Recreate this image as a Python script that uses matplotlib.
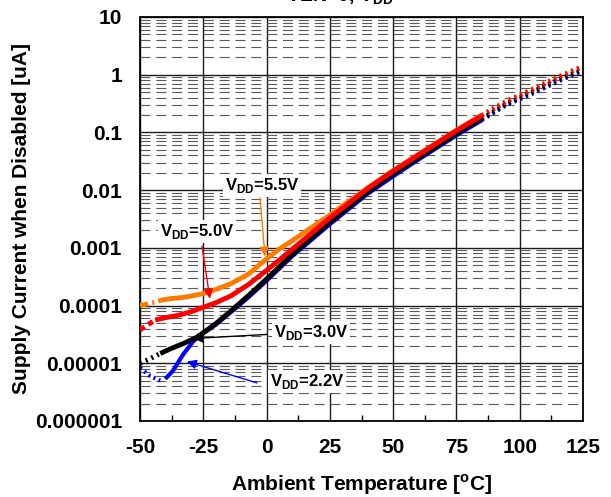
import numpy as np
import matplotlib
matplotlib.use("Agg")
import matplotlib.pyplot as plt
from matplotlib.ticker import FixedLocator, NullFormatter

plt.rcParams['font.family'] = ['Liberation Sans', 'DejaVu Sans']
plt.rcParams['font.weight'] = 'bold'
plt.rcParams['mathtext.fontset'] = 'custom'
plt.rcParams['mathtext.rm'] = 'Liberation Sans:bold'
plt.rcParams['mathtext.bf'] = 'Liberation Sans:bold'
plt.rcParams['lines.scale_dashes'] = False
plt.rcParams['axes.unicode_minus'] = False

# data (log10 of current in uA)
t_22 = [-50, -46, -42, -40, -37, -33, -29, -25, -20, -14, -7, 0, 10, 25, 40, 50, 60, 75, 85, 95, 105, 115, 125]
log_22 = [-5.08, -5.22, -5.30, -5.27, -5.13, -4.85, -4.62, -4.48, -4.33, -4.11, -3.85, -3.57, -3.15,
          -2.59, -2.06, -1.76, -1.47, -1.05, -0.79, -0.52, -0.33, -0.12, 0.07]

t_30 = [-50, -46, -42, -38, -33, -28, -25, -20, -14, -7, 0, 10, 25, 40, 50, 60, 75, 85, 95, 105, 115, 125]
log_30 = [-5.00, -4.92, -4.83, -4.75, -4.66, -4.56, -4.47, -4.31, -4.09, -3.82, -3.54, -3.12,
          -2.55, -2.03, -1.72, -1.44, -1.02, -0.76, -0.50, -0.30, -0.09, 0.09]

t_50 = [-50, -44, -40, -35, -30, -25, -20, -14, -7, 0, 10, 25, 40, 50, 60, 75, 85, 95, 105, 115, 125]
log_50 = [-4.42, -4.25, -4.21, -4.17, -4.11, -4.03, -3.95, -3.83, -3.63, -3.39, -3.03,
          -2.48, -1.97, -1.67, -1.39, -0.97, -0.71, -0.46, -0.26, -0.05, 0.14]

t_55 = [-50, -45, -42, -38, -33, -28, -25, -20, -14, -7, 0, 5, 10, 25, 40, 50, 60, 75, 85, 95, 105, 115, 125]
log_55 = [-4.00, -3.95, -3.91, -3.88, -3.86, -3.82, -3.79, -3.72, -3.62, -3.45, -3.19, -3.02, -2.88,
          -2.43, -1.96, -1.66, -1.38, -0.96, -0.70, -0.45, -0.25, -0.04, 0.15]

x_ticks = [-50, -25, 0, 25, 50, 75, 100, 125]
y_ticks = [1e-6, 1e-5, 1e-4, 1e-3, 1e-2, 1e-1, 1, 10]
y_labels = ['0.000001', '0.00001', '0.0001', '0.001', '0.01', '0.1', '1', '10']

fig = plt.figure(figsize=(6.11, 4.97), dpi=100)
ax = fig.add_axes([140/611, 1-421/497, 443/611, 404/497])
ax.set_yscale('log')
ax.set_xlim(-50, 125)
ax.set_ylim(1e-6, 10)

orange = '#FF7A00'
series = [
    (t_22, log_22, '#0000FF', 3.0, -41, (0, (1.5, 2.5)), 2),
    (t_30, log_30, 'black', 3.5, -42, (0, (1.5, 3.0)), 3),
    (t_55, log_55, orange, 3.5, -42, (0, (6, 3, 1.5, 3)), 4),
    (t_50, log_50, '#FF0000', 3.5, -44, (0, (4, 3)), 5),
]
for t, lg, col, lw, t0, left_ls, z in series:
    t = np.array(t, dtype=float)
    y = 10 ** np.array(lg)
    solid = (t >= t0) & (t <= 85)
    left = t <= t0
    right = t >= 85
    ax.plot(t[solid], y[solid], color=col, lw=lw, solid_capstyle='butt', zorder=z)
    ax.plot(t[left], y[left], color=col, lw=lw, linestyle=left_ls, zorder=z)
    ax.plot(t[right], y[right], color=col, lw=lw, linestyle=(0, (1.5, 3.0)), zorder=z)

# grid
ax.grid(which='major', axis='both', color='0.1', lw=1.0, zorder=1)
ax.yaxis.set_minor_locator(FixedLocator([m * 10.0 ** e for e in range(-6, 1) for m in range(2, 10)]))
ax.yaxis.set_minor_formatter(NullFormatter())
ax.grid(which='minor', axis='y', color='0.35', lw=0.8, linestyle=(0, (7.2, 4.2)), zorder=1)
ax.set_axisbelow(True)

ax.set_xticks(x_ticks)
ax.set_xticks(np.arange(-37.5, 125, 25), minor=True)
ax.set_yticks(y_ticks)
ax.set_yticklabels(y_labels)
ax.tick_params(axis='x', which='major', length=0, pad=12, labelsize=15)
ax.tick_params(axis='x', which='minor', direction='in', length=4, width=1, bottom=True)
ax.tick_params(axis='y', which='both', length=0, pad=13, labelsize=15)
for s in ax.spines.values():
    s.set_linewidth(1.3)

ax.set_xlabel(r'Ambient Temperature [$^{\mathbf{o}}$C]', fontsize=15, fontweight='bold', labelpad=11)
ax.set_ylabel('Supply Current when Disabled [uA]', fontsize=15, fontweight='bold', labelpad=3)

# clipped title at the very top
fig.text(286/611, 1 - 2/497, r'VEN=0, V$_{\mathbf{DD}}$', fontsize=14, fontweight='bold',
         ha='left', va='baseline')

# labels with arrows
labels = [
    (r'V$_{\mathbf{DD}}$=5.5V', (-1.8, 10**-1.913), (-2.6, 10**-2.14), (-0.6, 10**-3.15), orange),
    (r'V$_{\mathbf{DD}}$=5.0V', (-27.5, 10**-2.71), (-25.5, 10**-2.97), (-22.4, 10**-3.88), '#FF0000'),
    (r'V$_{\mathbf{DD}}$=3.0V', (17.5, 10**-4.47), (0.2, 10**-4.50), (-29.0, 10**-4.57), 'black'),
    (r'V$_{\mathbf{DD}}$=2.2V', (16.0, 10**-5.32), (-3.8, 10**-5.34), (-31.5, 10**-4.97), '#0000FF'),
]
for txt, pos, tail, head, col in labels:
    ax.text(pos[0], pos[1], txt, fontsize=12, fontweight='bold', ha='center', va='center',
            zorder=6, bbox=dict(facecolor='white', edgecolor='none', pad=1.5))
    ax.annotate('', xy=head, xytext=tail,
                arrowprops=dict(arrowstyle='-|>', color=col, lw=1.0, mutation_scale=14,
                                shrinkA=0, shrinkB=0), zorder=7)

fig.savefig('out.png', dpi=100)
